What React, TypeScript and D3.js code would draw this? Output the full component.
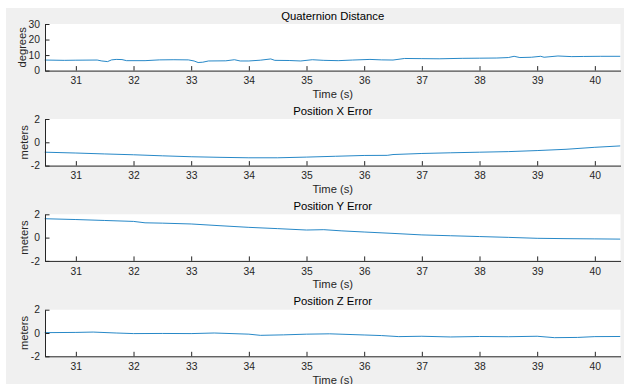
import React, { useEffect, useRef } from 'react'
import { scaleLinear, line, select, axisBottom, axisLeft } from 'd3'

// time axis shared by all subplots
const timeDomain = [30.465, 40.445]
const timeTicks = [31, 32, 33, 34, 35, 36, 37, 38, 39, 40]

// Quaternion Distance (degrees)
const quatTime = [30.46, 30.8, 31.0, 31.37, 31.45, 31.55, 31.62, 31.7, 31.8, 31.88, 32.2, 32.45, 32.7, 32.95, 33.05, 33.12, 33.2, 33.3, 33.6, 33.75, 33.85, 34.0, 34.2, 34.38, 34.45, 34.7, 34.9, 35.1, 35.3, 35.55, 35.8, 36.1, 36.3, 36.5, 36.7, 37.0, 37.3, 37.7, 38.0, 38.3, 38.5, 38.6, 38.7, 38.9, 39.06, 39.12, 39.36, 39.6, 39.8, 40.1, 40.44]
const quatDeg = [6.8, 6.6, 6.7, 6.8, 6.2, 5.8, 6.9, 7.2, 7.1, 6.4, 6.4, 6.9, 7.0, 6.9, 6.2, 5.2, 5.4, 6.2, 6.3, 7.0, 6.2, 6.2, 6.7, 7.5, 6.6, 6.5, 6.2, 7.0, 6.6, 6.4, 6.8, 7.2, 6.9, 6.8, 7.8, 7.7, 7.6, 7.9, 8.0, 8.1, 8.4, 9.2, 8.4, 8.6, 9.2, 8.6, 9.4, 9.0, 9.1, 9.2, 9.2]

// Position X Error (meters)
const posXTime = [30.46, 31, 31.5, 32, 32.5, 33, 33.5, 34, 34.5, 35, 35.5, 36, 36.4, 36.5, 37, 37.5, 38, 38.5, 39, 39.5, 40, 40.44]
const posXErr = [-0.85, -0.92, -1.0, -1.07, -1.16, -1.24, -1.29, -1.33, -1.33, -1.27, -1.2, -1.13, -1.12, -1.05, -0.96, -0.9, -0.85, -0.8, -0.71, -0.6, -0.43, -0.31]

// Position Y Error (meters)
const posYTime = [30.46, 31, 31.5, 32, 32.2, 32.5, 33, 33.5, 34, 34.5, 35, 35.3, 35.6, 36, 36.5, 37, 37.5, 38, 38.5, 39, 39.5, 40, 40.44]
const posYErr = [1.62, 1.55, 1.47, 1.39, 1.27, 1.24, 1.17, 1.02, 0.88, 0.77, 0.65, 0.68, 0.58, 0.48, 0.36, 0.23, 0.16, 0.09, 0.02, -0.06, -0.09, -0.11, -0.13]

// Position Z Error (meters)
const posZTime = [30.46, 31, 31.3, 31.7, 32, 32.5, 33, 33.4, 34, 34.2, 34.6, 35, 35.4, 36, 36.3, 36.6, 37, 37.5, 38, 38.5, 39, 39.3, 39.7, 40, 40.44]
const posZErr = [0.03, 0.05, 0.08, 0.0, -0.05, -0.04, -0.05, 0.0, -0.1, -0.2, -0.16, -0.1, -0.07, -0.17, -0.22, -0.31, -0.28, -0.34, -0.3, -0.32, -0.28, -0.4, -0.38, -0.31, -0.3]

const degTicks = [0, 10, 20, 30]
const meterTicks = [-2, 0, 2]

const FONT = '"Liberation Sans", Arial, sans-serif'
const INK = '#262626'

interface IPanelProps {
    top: number
    title: string
    yLabel: string
    yDomain: number[]
    yTicks: number[]
    times: number[]
    values: number[]
}

const left = 45
const right = 620.5
const plotH = 46.6

const Panel = (props: IPanelProps) => {
    const xRef = useRef<SVGGElement>(null)
    const yRef = useRef<SVGGElement>(null)

    const x = scaleLinear().domain(timeDomain).range([left, right])
    const y = scaleLinear().domain(props.yDomain).range([props.top + plotH, props.top])

    useEffect(() => {
        const gx = select(xRef.current)
        gx.selectAll('*').remove()
        gx.call(axisBottom(x).tickValues(timeTicks).tickSizeInner(-4.5).tickSizeOuter(0).tickPadding(6.5).tickFormat(d => String(d)))
        gx.attr('font-family', FONT).attr('font-size', 10.3)
        gx.select('.domain').attr('stroke', INK)
        gx.selectAll('.tick line').attr('stroke', INK)
        gx.selectAll('.tick text').attr('fill', INK)

        const gy = select(yRef.current)
        gy.selectAll('*').remove()
        gy.call(axisLeft(y).tickValues(props.yTicks).tickSizeInner(-4.5).tickSizeOuter(0).tickPadding(5).tickFormat(d => String(d)))
        gy.attr('font-family', FONT).attr('font-size', 10.3)
        gy.select('.domain').attr('stroke', INK)
        gy.selectAll('.tick line').attr('stroke', INK)
        gy.selectAll('.tick text').attr('fill', INK)
    }, [])

    const pts = props.times.map((t, i) => [t, props.values[i]] as [number, number])
    const path = line<[number, number]>().x(d => x(d[0])).y(d => y(d[1]))(pts) || ''
    const midX = (left + right) / 2
    const midY = props.top + plotH / 2

    return (
        <g>
            <rect x={left} y={props.top} width={right - left} height={plotH} fill='#ffffff' />
            <path d={path} fill='none' stroke='#0072bd' strokeWidth={0.85} />
            <g ref={xRef} transform={`translate(0, ${props.top + plotH})`} />
            <g ref={yRef} transform={`translate(${left}, 0)`} />
            <text x={midX} y={props.top - 4.5} textAnchor='middle' fontFamily={FONT} fontSize={11.3} fill='#000'>{props.title}</text>
            <text x={midX} y={props.top + plotH + 27.5} textAnchor='middle' fontFamily={FONT} fontSize={11.2} fill={INK}>Time (s)</text>
            <text transform={`translate(${props.yLabel === 'degrees' ? 25.8 : 28}, ${midY}) rotate(-90)`} textAnchor='middle' fontFamily={FONT} fontSize={11.2} fill={INK}>{props.yLabel}</text>
        </g>
    )
}

const App = () => {
    return (
        <svg width={624} height={384} style={{ position: 'absolute', left: 0, top: 0 }}>
            <rect x={0} y={0} width={624} height={384} fill='#ffffff' />
            <rect x={6} y={8} width={618} height={376} fill='#f0f0f0' />
            <Panel top={24} title='Quaternion Distance' yLabel='degrees' yDomain={[0, 30]} yTicks={degTicks} times={quatTime} values={quatDeg} />
            <Panel top={119} title='Position X Error' yLabel='meters' yDomain={[-2, 2]} yTicks={meterTicks} times={posXTime} values={posXErr} />
            <Panel top={214.3} title='Position Y Error' yLabel='meters' yDomain={[-2, 2]} yTicks={meterTicks} times={posYTime} values={posYErr} />
            <Panel top={309.7} title='Position Z Error' yLabel='meters' yDomain={[-2, 2]} yTicks={meterTicks} times={posZTime} values={posZErr} />
        </svg>
    )
}

export default App
